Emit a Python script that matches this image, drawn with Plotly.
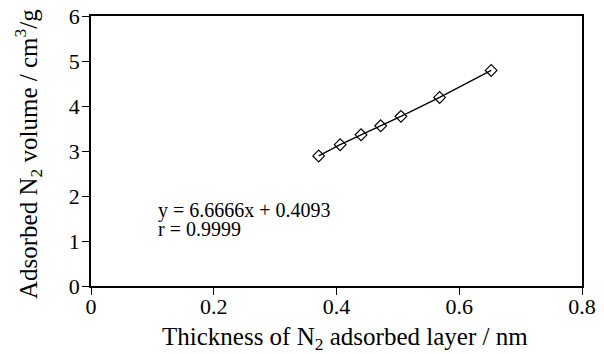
import plotly.graph_objects as go

thickness_nm = [0.371, 0.406, 0.440, 0.472, 0.505, 0.568, 0.652]
adsorbed_volume = [2.89, 3.14, 3.36, 3.56, 3.77, 4.19, 4.79]
x_ticks = [0, 0.2, 0.4, 0.6, 0.8]
x_ticklabels = ["0", "0.2", "0.4", "0.6", "0.8"]
y_ticks = [0, 1, 2, 3, 4, 5, 6]
x_title = "Thickness of N<sub>2</sub> adsorbed layer / nm"
y_title = "Adsorbed N<sub>2</sub> volume / cm<sup>3</sup>/g"
fit_equation = "y = 6.6666x + 0.4093"
fit_r = "r = 0.9999"

FONT = "Liberation Serif, Times New Roman, serif"

fig = go.Figure()
fig.add_trace(go.Scatter(
    x=thickness_nm, y=adsorbed_volume, mode="lines+markers",
    line=dict(color="black", width=1.3),
    marker=dict(symbol="diamond-open", size=9, color="black", line=dict(width=1.2)),
    showlegend=False,
))

axis_common = dict(
    showline=True, linecolor="black", linewidth=1.5, mirror=True,
    ticks="outside", ticklen=7, tickwidth=1.3, tickcolor="black",
    showgrid=False, zeroline=False, ticklabeloverflow="allow",
    tickfont=dict(family=FONT, size=22, color="black"),
)

fig.update_layout(
    width=604, height=354,
    margin=dict(l=91, r=22, t=4, b=68),
    plot_bgcolor="white", paper_bgcolor="white",
    font=dict(family=FONT, color="black"),
    xaxis=dict(range=[0, 0.8], tickvals=x_ticks, ticktext=x_ticklabels,
               ticklabelstandoff=-7, **axis_common),
    yaxis=dict(range=[0, 6], tickvals=y_ticks, ticklabelstandoff=-2, **axis_common),
    annotations=[
        dict(x=0.517, y=0, xref="paper", yref="paper", text=x_title, showarrow=False,
             xanchor="center", yanchor="middle", yshift=-52,
             font=dict(family=FONT, size=25, color="black")),
        dict(x=0, y=0.5, xref="paper", yref="paper", text=y_title, showarrow=False,
             textangle=-90, xanchor="center", yanchor="middle", xshift=-63, yshift=-3,
             font=dict(family=FONT, size=25, color="black")),
        dict(x=0.106, y=1.68, xref="x", yref="y", text=fit_equation, showarrow=False,
             xanchor="left", yanchor="middle", font=dict(family=FONT, size=20, color="black")),
        dict(x=0.106, y=1.27, xref="x", yref="y", text=fit_r, showarrow=False,
             xanchor="left", yanchor="middle", font=dict(family=FONT, size=20, color="black")),
    ],
)

fig.write_html("out.html")
